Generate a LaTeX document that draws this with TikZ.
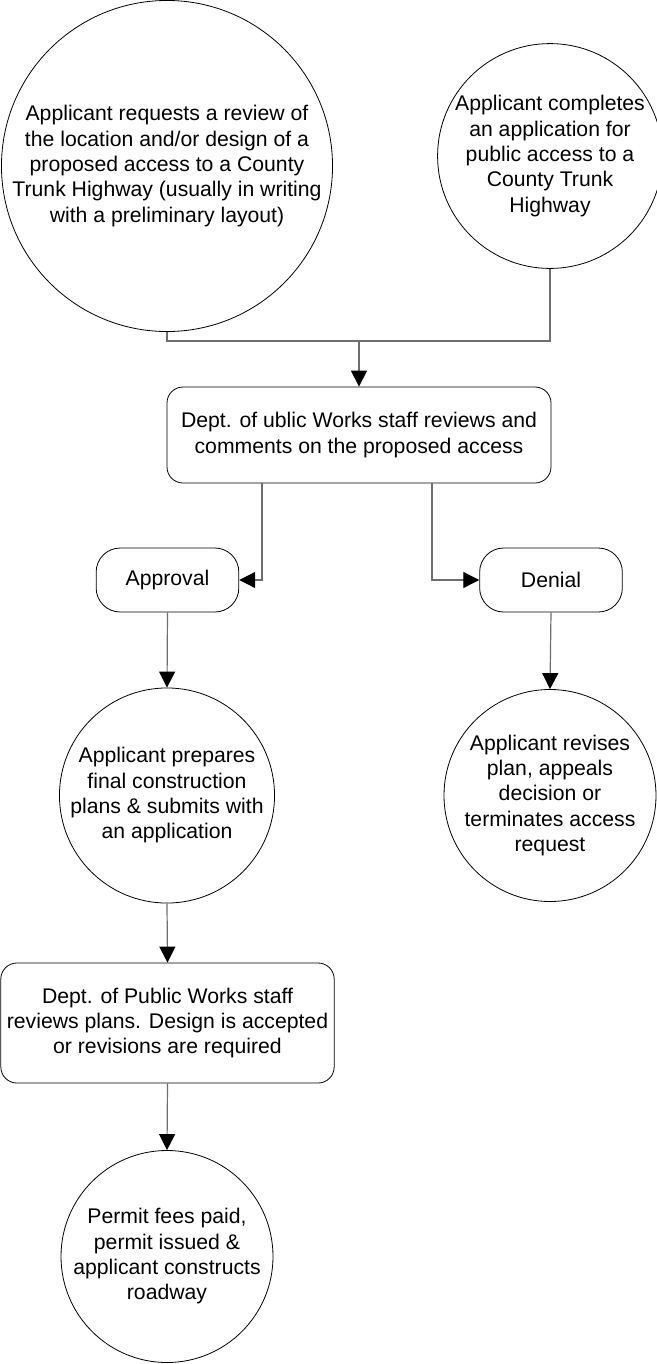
\documentclass[tikz,border=0pt]{standalone}
\usepackage{fontspec}
\setmainfont{Liberation Sans}
\usetikzlibrary{arrows.meta}
\definecolor{linegray}{RGB}{110,110,110}
\tikzset{
  txt/.style={align=center, font=\fontsize{15.9pt}{19pt}\selectfont, inner sep=0pt},
  bubble/.style={txt, draw, circle, line width=0.6pt},
  roundbox/.style={txt, draw, rectangle, rounded corners=12pt, line width=0.6pt},
  link/.style={draw=linegray, line width=0.9pt},
  tip/.style={-{Triangle[length=12pt, width=12pt, color=black]}}
}
\begin{document}
\begin{tikzpicture}[x=0.75pt, y=-0.75pt]
  \useasboundingbox (0,0) rectangle (657,1364);
  % top row
  \node[bubble, minimum size=243pt] (request) at (167,166) {Applicant requests a review of\\the location and/or design of a\\proposed access to a County\\Trunk Highway (usually in writing\\with a preliminary layout)};
  \node[bubble, minimum size=159pt] (apply) at (550,156) {Applicant completes\\an application for\\public access to a\\County Trunk\\Highway};
  \coordinate (join) at (359,341);
  % review
  \node[roundbox, minimum width=288pt, minimum height=72pt] (review) at (359,435) {Dept. of ublic Works staff reviews and\\comments on the proposed access};
  \node[roundbox, rounded corners=18pt, minimum width=107pt, minimum height=48pt] (approval) at (167.5,580) {Approval};
  \node[roundbox, rounded corners=18pt, minimum width=107pt, minimum height=48pt] (denial) at (551,580) {Denial};
  % lower part
  \node[bubble, minimum size=159pt] (prepare) at (167,795.5) {Applicant prepares\\final construction\\plans \& submits with\\an application};
  \node[bubble, minimum size=159pt] (revise) at (550,795.5) {Applicant revises\\plan, appeals\\decision or\\terminates access\\request};
  \node[roundbox, minimum width=250pt, minimum height=90pt] (plans) at (167.5,1023) {Dept. of Public Works staff\\reviews plans. Design is accepted\\or revisions are required};
  \node[bubble, minimum size=159pt] (permit) at (167,1256.5) {Permit fees paid,\\permit issued \&\\applicant constructs\\roadway};
  % connectors
  \draw[link] (request.south) |- (join);
  \draw[link] (apply.south) |- (join);
  \draw[link, tip] (join) -- (review.north);
  \draw[link, tip] ([xshift=-72.75pt]review.south) |- (approval.east);
  \draw[link, tip] ([xshift=54.75pt]review.south) |- (denial.west);
  \draw[link, tip] (approval.south) -- (prepare.north);
  \draw[link, tip] (denial.south) -- (revise.north);
  \draw[link, tip] (prepare.south) -- (plans.north);
  \draw[link, tip] (plans.south) -- (permit.north);
\end{tikzpicture}
\end{document}
